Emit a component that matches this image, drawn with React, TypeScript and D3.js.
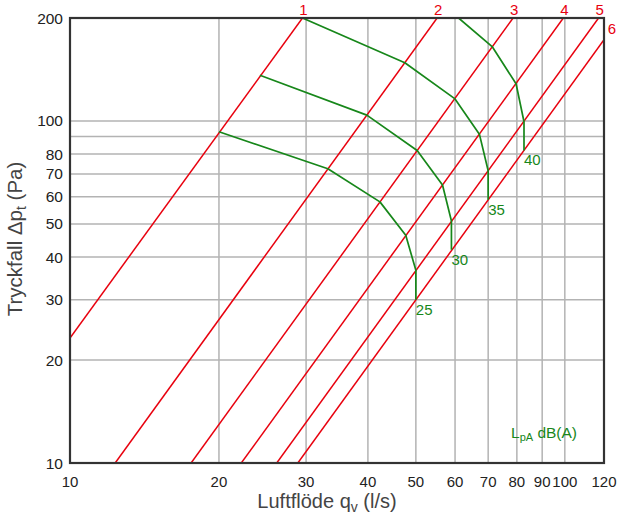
import React from "react";
import * as d3 from "d3";

const W = 619;
const H = 519;
const M = { left: 70, right: 604, top: 18, bottom: 463 };

const xTickLabels = [10, 20, 30, 40, 50, 60, 70, 80, 90, 100, 120];
const xGrid = [20, 30, 40, 50, 60, 70, 80, 90, 100];
const yTickLabels = [10, 20, 30, 40, 50, 60, 70, 80, 100, 200];
const yGrid = [20, 30, 40, 50, 60, 70, 80, 90, 100];

// Red system lines (q l/s, Δp Pa) endpoints
const redLineNames = ["1", "2", "3", "4", "5", "6"];
const redLines: [number, number][][] = [
  [[10, 23.2], [29.5, 200]],
  [[12.34, 10], [55.2, 200]],
  [[17.57, 10], [78.6, 200]],
  [[22.19, 10], [99.3, 200]],
  [[26.17, 10], [117.0, 200]],
  [[28.87, 10], [120, 172.8]],
];

// Green sound level curves
const soundLabels = ["25", "30", "35", "40"];
const sound25: [number, number][] = [[20, 93], [33.2, 72.5], [42.3, 58], [47.7, 46.3], [50, 36.6], [50, 30]];
const sound30: [number, number][] = [[24.2, 136], [39.8, 104], [50.3, 82], [56.6, 65], [59, 51], [59, 42]];
const sound35: [number, number][] = [[29.5, 200], [47.5, 148], [60, 116], [67.2, 91.5], [70, 71.5], [70, 58.8]];
const sound40: [number, number][] = [[61, 200], [71.3, 165], [79.7, 128.5], [82.7, 99.5], [82.7, 82]];
const soundCurves = [sound25, sound30, sound35, sound40];

const RED = "#e8000e";
const GREEN = "#17871a";
const GRID = "#b3b3b3";
const FONT = "'Liberation Sans', Arial, sans-serif";

export default function App() {
  const x = d3.scaleLog().domain([10, 120]).range([M.left, M.right]);
  const y = d3.scaleLog().domain([10, 200]).range([M.bottom, M.top]);
  const line = d3
    .line<[number, number]>()
    .x((d) => x(d[0]))
    .y((d) => y(d[1]));

  return (
    <svg
      width={W}
      height={H}
      style={{ position: "absolute", left: 0, top: 0, background: "#fff" }}
      fontFamily={FONT}
    >
      <rect width={W} height={H} fill="#fff" />
      {xGrid.map((v) => (
        <line key={"xg" + v} x1={x(v)} x2={x(v)} y1={M.top} y2={M.bottom} stroke={GRID} strokeWidth={1.5} />
      ))}
      {yGrid.map((v) => (
        <line key={"yg" + v} x1={M.left} x2={M.right} y1={y(v)} y2={y(v)} stroke={GRID} strokeWidth={1.5} />
      ))}
      <defs>
        <clipPath id="plot">
          <rect x={M.left} y={M.top} width={M.right - M.left} height={M.bottom - M.top} />
        </clipPath>
      </defs>
      <g clipPath="url(#plot)">
        {redLines.map((l, i) => (
          <path key={"r" + i} d={line(l) || ""} fill="none" stroke={RED} strokeWidth={1.5} />
        ))}
        {soundCurves.map((c, i) => (
          <path key={"g" + i} d={line(c) || ""} fill="none" stroke={GREEN} strokeWidth={1.7} strokeLinejoin="round" />
        ))}
      </g>
      <rect
        x={M.left}
        y={M.top}
        width={M.right - M.left}
        height={M.bottom - M.top}
        fill="none"
        stroke="#333"
        strokeWidth={2.2}
      />
      {redLines.map((l, i) => {
        const end = l[1];
        const isRight = end[0] >= 120;
        return (
          <text
            key={"rl" + i}
            x={isRight ? x(end[0]) + 8 : x(end[0]) + 1}
            y={isRight ? y(end[1]) - 6 : M.top - 3}
            fill={RED}
            fontSize={15}
            textAnchor="middle"
          >
            {redLineNames[i]}
          </text>
        );
      })}
      {soundCurves.map((c, i) => {
        const end = c[c.length - 1];
        return (
          <text key={"sl" + i} x={x(end[0])} y={y(end[1]) + 15} fill={GREEN} fontSize={15}>
            {soundLabels[i]}
          </text>
        );
      })}
      <text x={511} y={438} fill={GREEN} fontSize={15.5}>
        L<tspan fontSize={11} dy={3}>pA</tspan>
        <tspan dy={-3}> dB(A)</tspan>
      </text>
      {yTickLabels.map((v) => (
        <text key={"yt" + v} x={63} y={y(v) + 5.5} textAnchor="end" fontSize={15.5} fill="#222">
          {v}
        </text>
      ))}
      {xTickLabels.map((v) => (
        <text key={"xt" + v} x={x(v)} y={486.5} textAnchor="middle" fontSize={15} fill="#222">
          {v}
        </text>
      ))}
      <text x={327} y={508} textAnchor="middle" fontSize={20} fill="#444">
        Luftflöde q<tspan fontSize={14} dy={4}>v</tspan>
        <tspan dy={-4}> (l/s)</tspan>
      </text>
      <text
        transform={`translate(22, ${239}) rotate(-90)`}
        textAnchor="middle"
        fontSize={20.5}
        fill="#444"
      >
        Tryckfall Δp<tspan fontSize={14} dy={4}>t</tspan>
        <tspan dy={-4}> (Pa)</tspan>
      </text>
    </svg>
  );
}
